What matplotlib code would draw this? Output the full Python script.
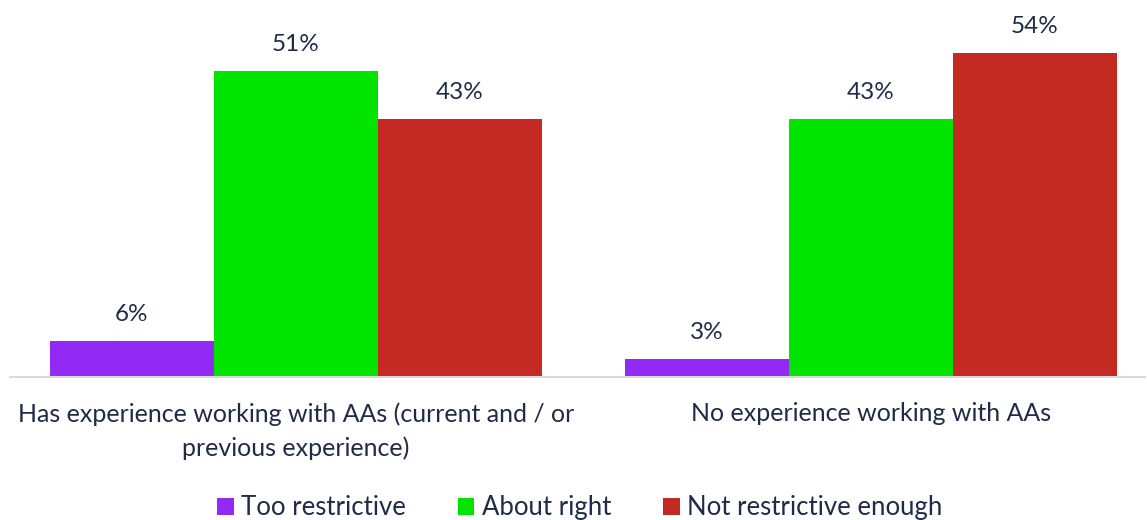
import matplotlib.pyplot as plt
import numpy as np

plt.rcParams['font.family'] = ['Lato', 'DejaVu Sans']

groups = ["Has experience working with AAs (current and / or\nprevious experience)",
          "No experience working with AAs"]
series = ["Too restrictive", "About right", "Not restrictive enough"]
too_restrictive = [6, 3]
about_right = [51, 43]
not_enough = [43, 54]
colors = ["#9329F5", "#00E400", "#C42A21"]
text_col = "#1F2B47"

values = [too_restrictive, about_right, not_enough]

fig = plt.figure(figsize=(11.47, 5.2), dpi=100)
ax = fig.add_axes([10 / 1147, 143 / 520, 1135 / 1147, 360 / 520])

x = np.arange(len(groups))
w = 0.285
for i, (name, vals, c) in enumerate(zip(series, values, colors)):
    pos = x + (i - 1) * w
    bars = ax.bar(pos, vals, width=w, color=c, label=name)
    for b, v in zip(bars, vals):
        ax.text(b.get_x() + b.get_width() / 2, v + 2.7, f"{v}%",
                ha="center", va="bottom", fontsize=17.5, color=text_col)

ax.set_xlim(-0.497, 1.477)
ax.set_ylim(0, 60)
ax.set_yticks([])
ax.set_xticks(x)
ax.set_xticklabels(groups, fontsize=18, color=text_col, linespacing=1.55)
ax.tick_params(axis="x", length=0, pad=18)
for s in ["top", "right", "left"]:
    ax.spines[s].set_visible(False)
ax.spines["bottom"].set_color("#D9D9D9")
ax.spines["bottom"].set_linewidth(1.5)

leg = ax.legend(loc="lower center", bbox_to_anchor=(0.502, -0.462), ncol=3,
                frameon=False, fontsize=18.5, handlelength=0.65, handleheight=0.65,
                handletextpad=0.3, columnspacing=2.0)
for t in leg.get_texts():
    t.set_color(text_col)

fig.savefig("out.png", dpi=100)
